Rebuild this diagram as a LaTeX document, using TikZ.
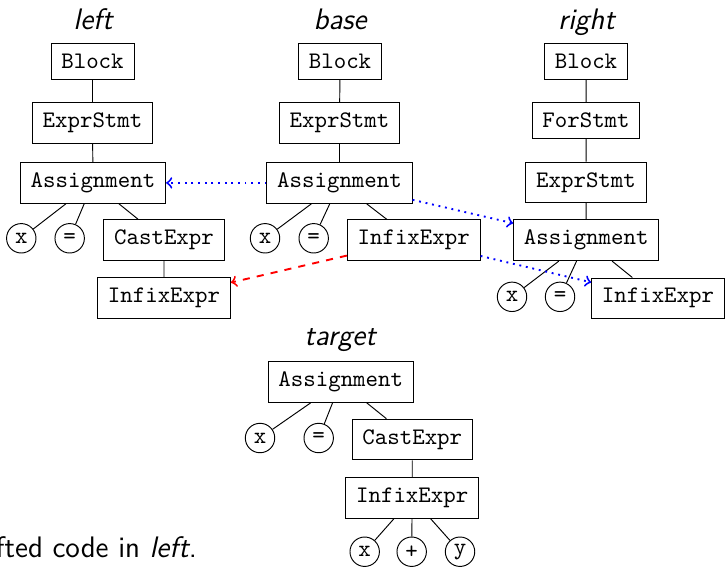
\documentclass[tikz,border=0pt]{standalone}
\usepackage{xcolor}
\usepackage{tikz}

\tikzset{
  box/.style={rectangle, draw, inner sep=4.35pt, font=\ttfamily},
  leaf/.style={circle, draw, inner sep=0pt, minimum size=12.4pt, font=\ttfamily},
  lbl/.style={anchor=base, font=\fontsize{12.5}{15}\selectfont\sffamily\itshape},
}

\begin{document}
\begin{tikzpicture}
                        \useasboundingbox (0, 0) rectangle (10.737, -8.472);

                        % left
                        \node (ll) at (1.377, -0.444) [lbl] {left};
                        \node (lblock) at (1.370, -0.641) [box, anchor=north] {Block};
                        \node (lexpr) at (1.370, -1.515) [box, anchor=north] {ExprStmt};
                        \node (lassign) at (1.377, -2.399) [box, anchor=north] {Assignment};
                        \node (lx) at (0.315, -3.529) [leaf] {x};
                        \node (leq) at (1.032, -3.529) [leaf] {=};
                        \node (lcast) at (2.429, -3.248) [box, anchor=north] {CastExpr};
                        \node (linfix) at (2.429, -4.107) [box, anchor=north] {InfixExpr};

                        \draw (lblock) -- (lexpr) -- (lassign) -- (lcast) -- (linfix);
                        \draw (lassign) -- (lx);
                        \draw (lassign) -- (leq);

                        % base
                        \node (bl) at (5.036, -0.444) [lbl] {base};
                        \node (bblock) at (5.036, -0.641) [box, anchor=north] {Block};
                        \node (bexpr) at (5.028, -1.515) [box, anchor=north] {ExprStmt};
                        \node (bassign) at (5.028, -2.399) [box, anchor=north] {Assignment};
                        \node (bx) at (3.925, -3.529) [leaf] {x};
                        \node (beq) at (4.646, -3.529) [leaf] {=};
                        \node (binfix) at (6.127, -3.248) [box, anchor=north] {InfixExpr};

                        \draw (bblock) -- (bexpr) -- (bassign) -- (binfix);
                        \draw (bassign) -- (bx);
                        \draw (bassign) -- (beq);

                        % right
                        \node (rl) at (8.686, -0.444) [lbl] {right};
                        \node (rblock) at (8.679, -0.641) [box, anchor=north] {Block};
                        \node (rfor) at (8.679, -1.515) [box, anchor=north] {ForStmt};
                        \node (rexpr) at (8.679, -2.392) [box, anchor=north] {ExprStmt};
                        \node (rassign) at (8.682, -3.248) [box, anchor=north] {Assignment};
                        \node (rx) at (7.583, -4.396) [leaf] {x};
                        \node (req) at (8.294, -4.396) [leaf] {=};
                        \node (rinfix) at (9.745, -4.110) [box, anchor=north] {InfixExpr};

                        \draw (rblock) -- (rfor) -- (rexpr) -- (rassign) -- (rinfix);
                        \draw (rassign) -- (rx);
                        \draw (rassign) -- (req);

                        % matches
                        \draw [->, thick, dotted, blue] (bassign) -- (lassign);
                        \draw [->, thick, dotted, blue] (bassign) -- (rassign);
                        \draw [->, thick, dotted, blue] (binfix) -- (rinfix);
                        \draw [->, thick, dashed, red] (binfix) -- (linfix);

                        % target
                        \node (tl) at (5.036, -5.124) [lbl] {target};
                        \node (tassign) at (5.047, -5.347) [box, anchor=north] {Assignment};
                        \node (tx) at (3.851, -6.487) [leaf] {x};
                        \node (teq) at (4.720, -6.487) [leaf] {=};
                        \node (tcast) at (6.106, -6.201) [box, anchor=north] {CastExpr};
                        \node (tinfix) at (6.105, -7.069) [box, anchor=north] {InfixExpr};
                        \node (tx2) at (5.401, -8.171) [leaf] {x};
                        \node (tplus) at (6.097, -8.171) [leaf] {+};
                        \node (ty) at (6.813, -8.171) [leaf] {y};

                        \draw (tassign) -- (tcast) -- (tinfix);
                        \draw (tassign) -- (tx);
                        \draw (tassign) -- (teq);
                        \draw (tinfix) -- (tx2);
                        \draw (tinfix) -- (tplus);
                        \draw (tinfix) -- (ty);

                        \node (note) at (-0.07, -8.25) [anchor=base west, font=\fontsize{12.5}{15}\selectfont\sffamily, inner sep=0pt] {fted code in \textit{left}.};
                    \end{tikzpicture}
\end{document}
